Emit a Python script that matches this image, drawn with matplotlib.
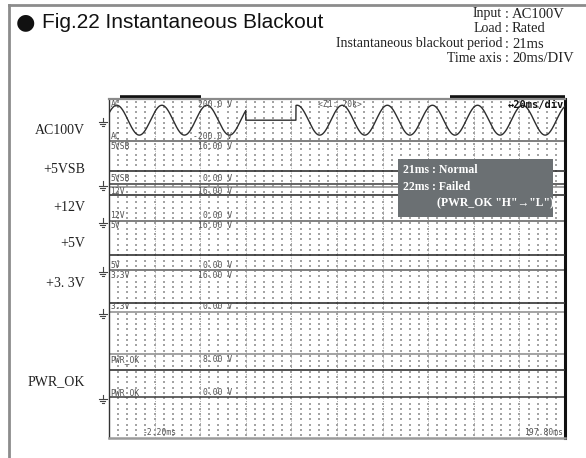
import numpy as np
import matplotlib
matplotlib.use("Agg")
import matplotlib.pyplot as plt
import matplotlib.transforms as mtransforms
from matplotlib.lines import Line2D
from matplotlib.patches import Rectangle

# channels as shown on the recorder screen
channels = ["AC", "5VSB", "12V", "5V", "3.3V", "PWR_OK"]
side_labels = ["AC100V", "+5VSB", "+12V", "+5V", "+3. 3V", "PWR_OK"]
scale_top_txt = ["200.0 V", "16.00 V", "16.00 V", "16.00 V", "16.00 V", "8.00 V"]
scale_bot_txt = ["-200.0 V", "0.00 V", "0.00 V", "0.00 V", "0.00 V", "0.00 V"]
v_top = [200.0, 16.0, 16.0, 16.0, 16.0, 8.0]
v_bot = [-200.0, 0.0, 0.0, 0.0, 0.0, 0.0]
dc_level = [None, 5.0, 12.0, 5.0, 3.3, 5.0]

# AC input trace
ac_peak_v = 141.0
ac_period_ms = 19.78
ac_first_peak_ms = 1.2
blackout_ms = [57.8, 79.8]

t_start, t_end = -2.2, 197.8
t_div = 20.0

info_keys = ["Input", "Load", "Instantaneous blackout period", "Time axis"]
info_vals = ["AC100V", "Rated", "21ms", "20ms/DIV"]
note_lines = ["21ms : Normal", "22ms : Failed", "(PWR_OK \"H\"\u2192\"L\")"]

# screen layout, in grid rows (0 = bottom, 64 = top)
n_rows = 64
zone_top = [64, 56, 47.4, 41, 31.7, 15.8]
zone_bot = [56, 48, 41, 31.7, 23.8, 7.7]
side_rows = [58.1, 50.6, 43.6, 36.8, 29.2, 10.6]

def to_row(i, v):
    return zone_bot[i] + (v - v_bot[i]) / (v_top[i] - v_bot[i]) * (zone_top[i] - zone_bot[i])

fig = plt.figure(figsize=(5.86, 4.58), dpi=100)
ax = fig.add_axes([109/586, 20/458, 456/586, 339/458])
ax.set_xlim(t_start, t_end)
ax.set_ylim(0, n_rows)
ax.set_xticks([]); ax.set_yticks([])
ax.spines['left'].set_color('#333333'); ax.spines['left'].set_linewidth(1.0)
ax.spines['top'].set_color('#8a8a8a'); ax.spines['top'].set_linewidth(1.6)
ax.spines['right'].set_color('#111111'); ax.spines['right'].set_linewidth(2.2)
ax.spines['bottom'].set_color('#9a9a9a'); ax.spines['bottom'].set_linewidth(1.8)

# dot grid
gx = np.arange(t_start, t_end + 0.01, t_div / 5)
gy = np.arange(0.5, n_rows, 1.0)
GX, GY = np.meshgrid(gx, gy)
ax.scatter(GX.ravel(), GY.ravel(), s=0.7, marker='s', color='#a4a4a4', linewidths=0, zorder=1)
ax.vlines(np.arange(t_start + t_div, t_end - 1, t_div), 0, n_rows, colors='#a0a0a0',
          linestyles=(0, (1, 1.5)), linewidth=0.7, zorder=1)

# zone edges
for i in range(len(channels)):
    if i > 0:
        ax.axhline(zone_top[i], color='#8a8a8a', lw=1.1, zorder=2)
    ax.axhline(zone_bot[i], color='#3a3a3a' if i != 4 else '#8a8a8a', lw=1.1, zorder=2)

# AC trace with the blackout gap
t = np.linspace(t_start, t_end, 4000)
v = ac_peak_v * np.cos(2 * np.pi * (t - ac_first_peak_ms) / ac_period_ms)
v[(t >= blackout_ms[0]) & (t < blackout_ms[1])] = 0.0
ax.plot(t, to_row(0, v), color='#2e2e2e', lw=1.0, zorder=3)

# DC rails
for i in range(1, len(channels)):
    ax.plot([t_start, t_end], [to_row(i, dc_level[i])] * 2, color='#333333', lw=1.2, zorder=3)

# channel labels on the screen
mono = dict(family='DejaVu Sans Mono', fontsize=5.8, color='#555555', zorder=4)
t_scale = 51.7
for i in range(len(channels)):
    ax.text(t_start + 0.6, zone_top[i] - 0.1, channels[i], va='top', ha='left', **mono)
    ax.text(t_scale, zone_top[i] - 0.1, scale_top_txt[i], va='top', ha='right', **mono)
    ax.text(t_start + 0.6, zone_bot[i] + 0.1, channels[i], va='bottom', ha='left', **mono)
    ax.text(t_scale, zone_bot[i] + 0.1, scale_bot_txt[i], va='bottom', ha='right', **mono)
ax.text(89.5, n_rows - 0.1, "<Z1: 20k>", va='top', ha='left', **mono)
ax.text(12.7, 0.2, "%.2fms" % t_start, va='bottom', ha='left', **mono)
ax.text(t_end - 1, 0.2, "%.2fms" % t_end, va='bottom', ha='right', **mono)
ax.text(t_end - 0.5, n_rows - 0.2, "\u219420ms/div", va='top', ha='right',
        family='DejaVu Sans Mono', fontsize=7.5, fontweight='bold', color='#111111', zorder=4)

# scroll bars above the screen
ax.plot([2.6, 38.1], [n_rows + 0.45] * 2, color='#111111', lw=2.6, clip_on=False, solid_capstyle='butt')
ax.plot([147.4, t_end], [n_rows + 0.45] * 2, color='#111111', lw=2.6, clip_on=False, solid_capstyle='butt')

# ground marks and side labels
blend = mtransforms.blended_transform_factory(ax.transAxes, ax.transData)
gnd = [60.0, 48.0, 41.0, 31.7, 23.8, 7.7]
for r in gnd:
    x0 = -6.5 / 456
    ax.add_line(Line2D([x0, x0], [r + 0.5, r - 0.4], transform=blend, color='#444444', lw=0.8, clip_on=False))
    ax.add_line(Line2D([x0 - 4/456, x0 + 4/456], [r - 0.4] * 2, transform=blend, color='#444444', lw=0.8, clip_on=False))
    ax.add_line(Line2D([x0 - 2.5/456, x0 + 2.5/456], [r - 0.75] * 2, transform=blend, color='#444444', lw=0.8, clip_on=False))
    ax.add_line(Line2D([x0 - 1/456, x0 + 1/456], [r - 1.1] * 2, transform=blend, color='#444444', lw=0.8, clip_on=False))
for lab, r in zip(side_labels, side_rows):
    ax.text(-24 / 456, r, lab, transform=blend, ha='right', va='center',
            family='Liberation Serif', fontsize=10, color='#222222')

# note box
ax.add_patch(Rectangle((0.634, 0.652), 0.34, 0.171, transform=ax.transAxes,
                       facecolor='#6b7073', edgecolor='none', zorder=5))
note_y = [0.79, 0.741, 0.692]
note_x = [0.644, 0.644, 0.719]
for s, x, y in zip(note_lines, note_x, note_y):
    ax.text(x, y, s, transform=ax.transAxes, ha='left', va='center', color='white',
            family=['Liberation Serif', 'DejaVu Serif'], fontweight='bold', fontsize=8.5, zorder=6)

# outer panel border
fig.add_artist(Line2D([9/586, 1], [1 - 5/458] * 2, color='#8c8c8c', lw=2))
fig.add_artist(Line2D([9/586] * 2, [0, 1 - 5/458], color='#8c8c8c', lw=2))

# title
fig.text(25/586, 1 - 22/458, "\u25cf", ha='center', va='center', fontsize=16, color='#111111',
         family='DejaVu Sans')
fig.text(42/586, 1 - 22/458, "Fig.22 Instantaneous Blackout", ha='left', va='center',
         family='Liberation Sans', fontsize=15, color='#111111')

# test conditions block
info_y = [14, 29, 44, 58]
for k, val, y in zip(info_keys, info_vals, info_y):
    fig.text(502/586, 1 - y/458, k, ha='right', va='center', family='Liberation Serif',
             fontsize=10, color='#222222')
    fig.text(507/586, 1 - y/458, ":", ha='center', va='center', family='Liberation Serif',
             fontsize=10, color='#222222')
    fig.text(512/586, 1 - y/458, val, ha='left', va='center', family='Liberation Serif',
             fontsize=10.5, color='#222222')

fig.savefig("out.png", dpi=100)
